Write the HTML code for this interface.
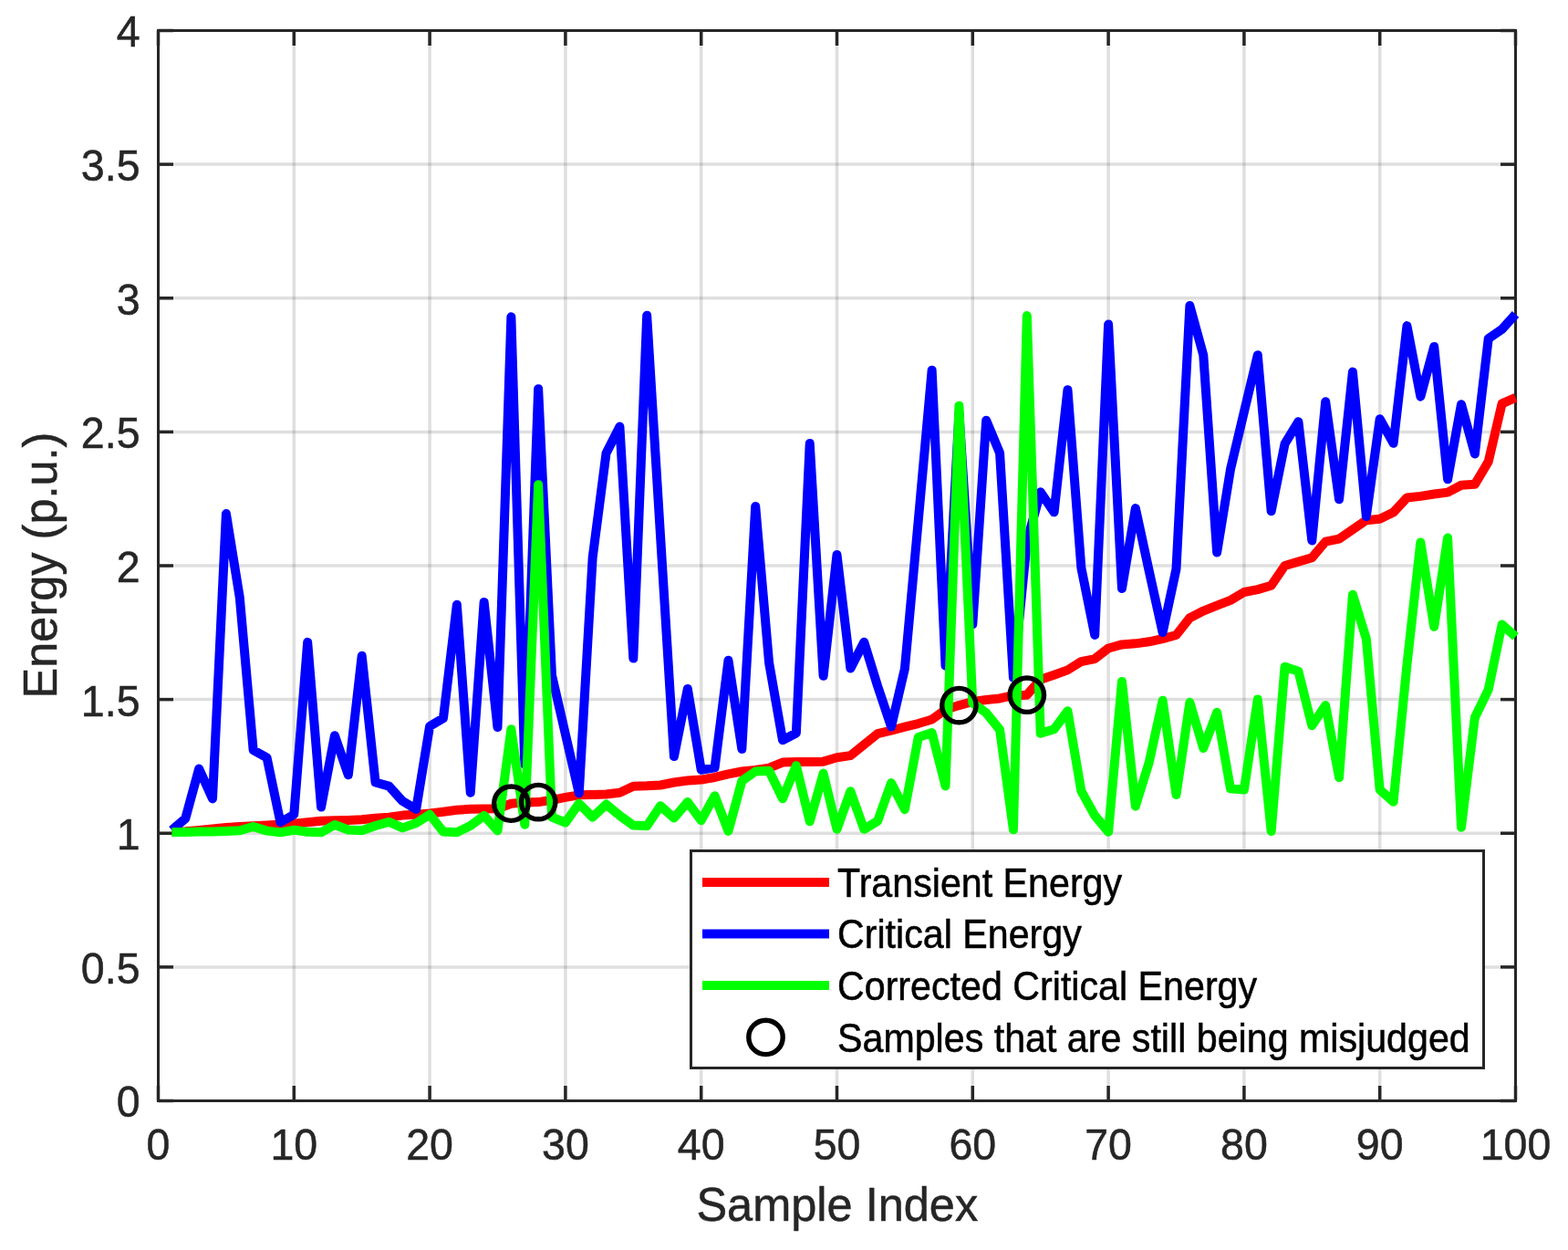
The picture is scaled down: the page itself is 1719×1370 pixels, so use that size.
<!DOCTYPE html>
<html><head><meta charset="utf-8"><title>Energy plot</title>
<style>html,body{margin:0;padding:0;background:#fff;width:1719px;height:1370px;overflow:hidden}svg{display:block}</style>
</head><body>
<svg width="1719" height="1370" viewBox="0 0 1719 1370"><rect x="0" y="0" width="1719" height="1370" fill="#ffffff"/>
<g stroke="#262626" stroke-opacity="0.15" stroke-width="3.5"><line x1="322.30" y1="33.50" x2="322.30" y2="1206.50"/><line x1="471.10" y1="33.50" x2="471.10" y2="1206.50"/><line x1="619.90" y1="33.50" x2="619.90" y2="1206.50"/><line x1="768.70" y1="33.50" x2="768.70" y2="1206.50"/><line x1="917.50" y1="33.50" x2="917.50" y2="1206.50"/><line x1="1066.30" y1="33.50" x2="1066.30" y2="1206.50"/><line x1="1215.10" y1="33.50" x2="1215.10" y2="1206.50"/><line x1="1363.90" y1="33.50" x2="1363.90" y2="1206.50"/><line x1="1512.70" y1="33.50" x2="1512.70" y2="1206.50"/><line x1="173.50" y1="1059.88" x2="1661.50" y2="1059.88"/><line x1="173.50" y1="913.25" x2="1661.50" y2="913.25"/><line x1="173.50" y1="766.62" x2="1661.50" y2="766.62"/><line x1="173.50" y1="620.00" x2="1661.50" y2="620.00"/><line x1="173.50" y1="473.38" x2="1661.50" y2="473.38"/><line x1="173.50" y1="326.75" x2="1661.50" y2="326.75"/><line x1="173.50" y1="180.12" x2="1661.50" y2="180.12"/></g>
<g stroke="#262626" fill="none"><g stroke-width="3.5"><line x1="173.50" y1="1206.50" x2="173.50" y2="1190.00"/><line x1="173.50" y1="33.50" x2="173.50" y2="50.00"/><line x1="322.30" y1="1206.50" x2="322.30" y2="1190.00"/><line x1="322.30" y1="33.50" x2="322.30" y2="50.00"/><line x1="471.10" y1="1206.50" x2="471.10" y2="1190.00"/><line x1="471.10" y1="33.50" x2="471.10" y2="50.00"/><line x1="619.90" y1="1206.50" x2="619.90" y2="1190.00"/><line x1="619.90" y1="33.50" x2="619.90" y2="50.00"/><line x1="768.70" y1="1206.50" x2="768.70" y2="1190.00"/><line x1="768.70" y1="33.50" x2="768.70" y2="50.00"/><line x1="917.50" y1="1206.50" x2="917.50" y2="1190.00"/><line x1="917.50" y1="33.50" x2="917.50" y2="50.00"/><line x1="1066.30" y1="1206.50" x2="1066.30" y2="1190.00"/><line x1="1066.30" y1="33.50" x2="1066.30" y2="50.00"/><line x1="1215.10" y1="1206.50" x2="1215.10" y2="1190.00"/><line x1="1215.10" y1="33.50" x2="1215.10" y2="50.00"/><line x1="1363.90" y1="1206.50" x2="1363.90" y2="1190.00"/><line x1="1363.90" y1="33.50" x2="1363.90" y2="50.00"/><line x1="1512.70" y1="1206.50" x2="1512.70" y2="1190.00"/><line x1="1512.70" y1="33.50" x2="1512.70" y2="50.00"/><line x1="1661.50" y1="1206.50" x2="1661.50" y2="1190.00"/><line x1="1661.50" y1="33.50" x2="1661.50" y2="50.00"/><line x1="173.50" y1="1206.50" x2="190.00" y2="1206.50"/><line x1="1661.50" y1="1206.50" x2="1645.00" y2="1206.50"/><line x1="173.50" y1="1059.88" x2="190.00" y2="1059.88"/><line x1="1661.50" y1="1059.88" x2="1645.00" y2="1059.88"/><line x1="173.50" y1="913.25" x2="190.00" y2="913.25"/><line x1="1661.50" y1="913.25" x2="1645.00" y2="913.25"/><line x1="173.50" y1="766.62" x2="190.00" y2="766.62"/><line x1="1661.50" y1="766.62" x2="1645.00" y2="766.62"/><line x1="173.50" y1="620.00" x2="190.00" y2="620.00"/><line x1="1661.50" y1="620.00" x2="1645.00" y2="620.00"/><line x1="173.50" y1="473.38" x2="190.00" y2="473.38"/><line x1="1661.50" y1="473.38" x2="1645.00" y2="473.38"/><line x1="173.50" y1="326.75" x2="190.00" y2="326.75"/><line x1="1661.50" y1="326.75" x2="1645.00" y2="326.75"/><line x1="173.50" y1="180.12" x2="190.00" y2="180.12"/><line x1="1661.50" y1="180.12" x2="1645.00" y2="180.12"/><line x1="173.50" y1="33.50" x2="190.00" y2="33.50"/><line x1="1661.50" y1="33.50" x2="1645.00" y2="33.50"/></g><rect x="173.50" y="33.50" width="1488.00" height="1173.00" stroke-width="3" stroke-linejoin="miter"/></g>
<g fill="none" stroke-width="10" stroke-linejoin="round" stroke-linecap="butt">
<path stroke="#ff0000" d="M188.38,911.78 L203.26,911.20 L218.14,910.02 L233.02,908.56 L247.90,907.09 L262.78,905.92 L277.66,905.33 L292.54,904.45 L307.42,903.57 L322.30,902.69 L337.18,901.23 L352.06,899.76 L366.94,899.17 L381.82,898.88 L396.70,898.29 L411.58,896.83 L426.46,895.65 L441.34,893.60 L456.22,892.72 L471.10,891.55 L485.98,889.79 L500.86,887.74 L515.74,886.86 L530.62,886.56 L545.50,886.27 L560.38,880.70 L575.26,879.38 L590.14,879.09 L605.02,876.80 L619.90,873.95 L634.78,871.32 L649.66,871.02 L664.54,870.44 L679.42,868.68 L694.30,861.70 L709.18,861.34 L724.06,860.47 L738.94,857.53 L753.82,855.48 L768.70,854.60 L783.58,851.96 L798.46,848.30 L813.34,845.51 L828.22,844.04 L843.10,841.70 L857.98,835.54 L872.86,835.10 L887.74,835.10 L902.62,834.66 L917.50,830.26 L932.38,828.09 L947.26,816.18 L962.14,804.16 L977.02,800.70 L991.90,796.62 L1006.78,793.02 L1021.66,788.50 L1036.54,777.77 L1051.42,773.08 L1066.30,768.97 L1081.18,767.01 L1096.06,765.45 L1110.94,762.23 L1125.82,761.64 L1140.70,744.78 L1155.58,739.65 L1170.46,734.37 L1185.34,725.10 L1200.22,722.05 L1215.10,710.50 L1229.98,706.39 L1244.86,705.34 L1259.74,703.28 L1274.62,700.09 L1289.50,695.98 L1304.38,677.18 L1319.26,669.56 L1334.14,663.69 L1349.02,657.83 L1363.90,649.03 L1378.78,646.10 L1393.66,641.79 L1408.54,620.00 L1423.42,615.60 L1438.30,611.20 L1453.18,593.61 L1468.06,590.67 L1482.94,580.41 L1497.82,570.15 L1512.70,568.77 L1527.58,561.50 L1542.46,545.51 L1557.34,543.90 L1572.22,541.56 L1587.10,539.59 L1601.98,531.73 L1616.86,530.85 L1631.74,505.93 L1646.62,442.29 L1661.50,435.84"/>
<path stroke="#0000ff" d="M188.38,909.73 L203.26,897.12 L218.14,842.58 L233.02,875.42 L247.90,563.11 L262.78,654.90 L277.66,822.05 L292.54,830.26 L307.42,901.23 L322.30,892.72 L337.18,703.87 L352.06,884.51 L366.94,806.21 L381.82,849.32 L396.70,718.83 L411.58,857.53 L426.46,861.64 L441.34,878.06 L456.22,886.86 L471.10,795.95 L485.98,787.15 L500.86,662.81 L515.74,868.68 L530.62,659.88 L545.50,797.12 L560.38,347.28 L575.26,837.88 L590.14,426.16 L605.02,740.23 L619.90,804.75 L634.78,869.26 L649.66,611.20 L664.54,496.84 L679.42,467.51 L694.30,721.46 L709.18,345.81 L724.06,587.74 L738.94,829.09 L753.82,754.89 L768.70,843.75 L783.58,841.40 L798.46,723.81 L813.34,820.88 L828.22,554.90 L843.10,726.45 L857.98,811.20 L872.86,803.57 L887.74,485.98 L902.62,740.82 L917.50,607.98 L932.38,732.61 L947.26,703.69 L962.14,751.96 L977.02,796.54 L991.90,732.90 L1006.78,570.15 L1021.66,405.63 L1036.54,729.68 L1051.42,452.85 L1066.30,684.22 L1081.18,460.77 L1096.06,496.54 L1110.94,742.87 L1125.82,593.61 L1140.70,539.36 L1155.58,561.35 L1170.46,427.19 L1185.34,622.20 L1200.22,695.95 L1215.10,355.61 L1229.98,645.01 L1244.86,557.10 L1259.74,625.87 L1274.62,693.11 L1289.50,623.61 L1304.38,334.96 L1319.26,389.21 L1334.14,605.51 L1349.02,514.20 L1363.90,451.38 L1378.78,389.21 L1393.66,560.29 L1408.54,486.40 L1423.42,462.23 L1438.30,592.43 L1453.18,440.30 L1468.06,547.27 L1482.94,407.60 L1497.82,566.10 L1512.70,459.30 L1527.58,485.81 L1542.46,357.10 L1557.34,434.67 L1572.22,379.92 L1587.10,525.28 L1601.98,443.17 L1616.86,497.48 L1631.74,371.09 L1646.62,360.91 L1661.50,344.35"/>
<path stroke="#00ff00" d="M188.38,912.08 L203.26,912.08 L218.14,911.49 L233.02,911.49 L247.90,910.90 L262.78,910.32 L277.66,905.92 L292.54,910.61 L307.42,912.37 L322.30,909.73 L337.18,911.78 L352.06,912.37 L366.94,904.01 L381.82,909.44 L396.70,910.32 L411.58,905.04 L426.46,900.93 L441.34,907.38 L456.22,902.11 L471.10,892.72 L485.98,911.61 L500.86,912.19 L515.74,905.04 L530.62,893.90 L545.50,910.41 L560.38,799.29 L575.26,903.69 L590.14,531.29 L605.02,895.65 L619.90,901.52 L634.78,880.70 L649.66,895.65 L664.54,881.58 L679.42,893.90 L694.30,904.60 L709.18,905.21 L724.06,883.19 L738.94,896.53 L753.82,879.09 L768.70,899.17 L783.58,872.20 L798.46,910.90 L813.34,855.89 L828.22,845.51 L843.10,844.81 L857.98,875.30 L872.86,839.20 L887.74,900.35 L902.62,847.56 L917.50,908.85 L932.38,867.21 L947.26,908.85 L962.14,899.91 L977.02,858.12 L991.90,887.15 L1006.78,807.97 L1021.66,803.11 L1036.54,861.40 L1051.42,444.64 L1066.30,770.44 L1081.18,781.29 L1096.06,799.76 L1110.94,909.32 L1125.82,346.10 L1140.70,803.78 L1155.58,799.18 L1170.46,779.23 L1185.34,866.80 L1200.22,893.81 L1215.10,911.70 L1229.98,746.89 L1244.86,883.63 L1259.74,835.54 L1274.62,767.71 L1289.50,871.11 L1304.38,769.85 L1319.26,820.00 L1334.14,780.79 L1349.02,864.28 L1363.90,865.39 L1378.78,766.39 L1393.66,911.11 L1408.54,730.85 L1423.42,735.83 L1438.30,795.30 L1453.18,773.08 L1468.06,852.11 L1482.94,651.67 L1497.82,699.91 L1512.70,865.45 L1527.58,878.71 L1542.46,728.50 L1557.34,594.49 L1572.22,686.86 L1587.10,589.50 L1601.98,906.71 L1616.86,786.51 L1631.74,755.77 L1646.62,684.51 L1661.50,697.71"/>
</g>
<g fill="none" stroke="#000000" stroke-width="5.4"><circle cx="560.38" cy="880.70" r="18.7"/><circle cx="590.14" cy="879.09" r="18.7"/><circle cx="1051.42" cy="773.08" r="18.7"/><circle cx="1125.82" cy="761.64" r="18.7"/></g>
<g fill="#262626" stroke="#262626" stroke-width="0.50" font-family="'Liberation Sans', Arial, Helvetica, sans-serif" font-size="46.5"><text transform="translate(173.50,1271.30) scale(1,1.030)" text-anchor="middle">0</text><text transform="translate(322.30,1271.30) scale(1,1.030)" text-anchor="middle">10</text><text transform="translate(471.10,1271.30) scale(1,1.030)" text-anchor="middle">20</text><text transform="translate(619.90,1271.30) scale(1,1.030)" text-anchor="middle">30</text><text transform="translate(768.70,1271.30) scale(1,1.030)" text-anchor="middle">40</text><text transform="translate(917.50,1271.30) scale(1,1.030)" text-anchor="middle">50</text><text transform="translate(1066.30,1271.30) scale(1,1.030)" text-anchor="middle">60</text><text transform="translate(1215.10,1271.30) scale(1,1.030)" text-anchor="middle">70</text><text transform="translate(1363.90,1271.30) scale(1,1.030)" text-anchor="middle">80</text><text transform="translate(1512.70,1271.30) scale(1,1.030)" text-anchor="middle">90</text><text transform="translate(1661.50,1271.30) scale(1,1.030)" text-anchor="middle">100</text><text transform="translate(153.5,1224.40) scale(1,1.030)" text-anchor="end">0</text><text transform="translate(153.5,1077.78) scale(1,1.030)" text-anchor="end">0.5</text><text transform="translate(153.5,931.15) scale(1,1.030)" text-anchor="end">1</text><text transform="translate(153.5,784.52) scale(1,1.030)" text-anchor="end">1.5</text><text transform="translate(153.5,637.90) scale(1,1.030)" text-anchor="end">2</text><text transform="translate(153.5,491.27) scale(1,1.030)" text-anchor="end">2.5</text><text transform="translate(153.5,344.65) scale(1,1.030)" text-anchor="end">3</text><text transform="translate(153.5,198.03) scale(1,1.030)" text-anchor="end">3.5</text><text transform="translate(153.5,51.40) scale(1,1.030)" text-anchor="end">4</text></g>
<text transform="translate(917.8,1338.2) scale(1,1.03)" text-anchor="middle" fill="#262626" stroke="#262626" stroke-width="0.50" font-family="'Liberation Sans', Arial, Helvetica, sans-serif" font-size="50.5">Sample Index</text>
<text transform="translate(61.7,619.5) rotate(-90) scale(1,1.03)" x="0" y="0" text-anchor="middle" fill="#262626" stroke="#262626" stroke-width="0.50" font-family="'Liberation Sans', Arial, Helvetica, sans-serif" font-size="50.5">Energy (p.u.)</text>
<rect x="757.5" y="932.5" width="869" height="238" fill="#ffffff" stroke="#262626" stroke-width="3"/><line x1="770" y1="967.0" x2="909" y2="967.0" stroke="#ff0000" stroke-width="10"/><line x1="770" y1="1023.5" x2="909" y2="1023.5" stroke="#0000ff" stroke-width="10"/><line x1="770" y1="1080.0" x2="909" y2="1080.0" stroke="#00ff00" stroke-width="10"/><circle cx="839.5" cy="1136.9" r="18.7" fill="none" stroke="#000" stroke-width="5.4"/><g fill="#000000" stroke="#000000" stroke-width="0.50" font-family="'Liberation Sans', Arial, Helvetica, sans-serif" font-size="41.2"><text transform="translate(918,982.9) scale(1,1.070)">Transient Energy</text><text transform="translate(918,1039.3) scale(1,1.070)">Critical Energy</text><text transform="translate(918,1095.8) scale(1,1.070)">Corrected Critical Energy</text><text transform="translate(918,1152.7) scale(1,1.070)">Samples that are still being misjudged</text></g></svg>
</body></html>
